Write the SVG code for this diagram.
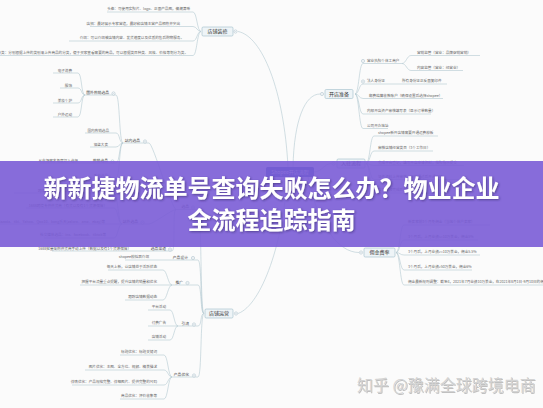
<svg xmlns="http://www.w3.org/2000/svg" xmlns:xlink="http://www.w3.org/1999/xlink" width="543" height="408" viewBox="0 0 543 408">
<defs>
<style>
.ln{fill:none;stroke:#b3cad2;stroke-width:0.6}
.lf{font-family:"Noto Sans CJK SC","Noto Sans",sans-serif;font-size:3.6px;fill:#666}
.sn{font-family:"Noto Sans CJK SC","Noto Sans",sans-serif;font-size:3.8px;fill:#444}
.nd{fill:#eef4f7;stroke:#9fbdca;stroke-width:0.6}
.nt{font-family:"Noto Sans CJK SC","Noto Sans",sans-serif;font-size:5px;fill:#333;text-anchor:middle}
.e{text-anchor:end}
.title{font-family:"Noto Sans CJK SC",sans-serif;font-weight:700;font-size:24px;fill:#fff;text-anchor:middle}
.wm{font-family:"Noto Sans CJK SC",sans-serif;font-size:16px}
</style>
<g id="cb"><circle r="1.6" fill="#fff" stroke="#9fb7c2" stroke-width="0.5"/><path d="M-0.8,0H0.8" stroke="#9fb7c2" stroke-width="0.4"/></g>
<filter id="sh" x="-5%" y="-20%" width="110%" height="140%"><feDropShadow dx="1" dy="1" stdDeviation="0.8" flood-color="#2a1a5a" flood-opacity="0.55"/></filter>
</defs>
<rect width="543" height="408" fill="#fbfbfb"/>
<g id="connectors">
<path class="ln" d="M238,31.5 C262,36 284,90 288,167"/>
<path class="ln" d="M293,167 C294,120 305,94 320,94"/>
<path class="ln" d="M314,172 C322,172 324,163.5 331.5,163.5"/>
<path class="ln" d="M308,177 C318,225 338,252.5 359,252.5"/>
<path class="ln" d="M238,313.5 C262,305 284,240 287,177"/>
<path class="ln" d="M201,31.5 C197,31.5 197,12 193,12 H107"/>
<path class="ln" d="M201,31.5 C197,31.5 197,26.5 193,26.5 H90"/>
<path class="ln" d="M201,31.5 C197,31.5 197,41 193,41 H69"/>
<path class="ln" d="M201,31.5 C197,31.5 197,55.5 193,55.5 H0"/>
<path class="ln" d="M355,94 C359,94 359,63.5 363,63.5 H402"/>
<path class="ln" d="M402,63.5 C406,63.5 407,55.5 411,55.5 H480"/>
<path class="ln" d="M402,63.5 C406,63.5 407,70.5 411,70.5 H463"/>
<path class="ln" d="M355,94 C359,94 359,84 363,84 H447"/>
<path class="ln" d="M355,94 C359,94 359,98.5 363,98.5 H443"/>
<path class="ln" d="M355,94 C359,94 359,114 363,114 H431"/>
<path class="ln" d="M355,94 C359,94 359,128.5 363,128.5 H388"/>
<path class="ln" d="M366,163.5 C370,163.5 370,136 374,136 H438"/>
<path class="ln" d="M366,163.5 C370,163.5 370,151 374,151 H433"/>
<path class="ln" d="M366,163.5 C370,163.5 370,165.5 374,165.5 H464"/>
<path class="ln" d="M366,163.5 C370,163.5 370,179.5 374,179.5 H460"/>
<path class="ln" d="M366,163.5 C370,163.5 370,193 374,193 H445"/>
<path class="ln" d="M396,252.5 C400,252.5 400,225 404,225 H490"/>
<path class="ln" d="M396,252.5 C400,252.5 400,240 404,240 H478"/>
<path class="ln" d="M396,252.5 C400,252.5 400,255 404,255 H480"/>
<path class="ln" d="M396,252.5 C400,252.5 400,270 404,270 H472"/>
<path class="ln" d="M396,252.5 C400,252.5 400,285 404,285 H543"/>
<path class="ln" d="M204,313.5 C200,313.5 202,209.5 198,209.5 H176"/>
<path class="ln" d="M204,313.5 C200,313.5 202,260 198,260 H172"/>
<path class="ln" d="M204,313.5 C200,313.5 202,285 198,285 H172"/>
<path class="ln" d="M204,313.5 C200,313.5 202,326 198,326 H178"/>
<path class="ln" d="M204,313.5 C200,313.5 202,377 198,377 H172"/>
<path class="ln" d="M172,260 H125"/>
<path class="ln" d="M172,285 C168,285 167,270 163,270 H108"/>
<path class="ln" d="M172,285 H80"/>
<path class="ln" d="M172,285 C168,285 167,300 163,300 H125"/>
<path class="ln" d="M178,326 C174,326 174,310 170,310 H148"/>
<path class="ln" d="M178,326 H148"/>
<path class="ln" d="M178,326 C174,326 174,340 170,340 H148"/>
<path class="ln" d="M172,377 C168,377 168,355 164,355 H120"/>
<path class="ln" d="M172,377 C168,377 168,370 164,370 H85"/>
<path class="ln" d="M172,377 C168,377 168,385 164,385 H72"/>
<path class="ln" d="M172,377 C168,377 168,399 164,399 H120"/>
<path class="ln" d="M176,209.5 C172,209.5 153,143 149,143 H123"/>
<path class="ln" d="M176,209.5 C172,209.5 153,224 149,224 H122"/>
<path class="ln" d="M176,209.5 C172,209.5 176,251 172,251 H150"/>
<path class="ln" d="M123,143 C119,143 120,95 116,95 H85"/>
<path class="ln" d="M123,143 C119,143 120,133 116,133 H85"/>
<path class="ln" d="M123,143 C119,143 120,147 116,147 H90"/>
<path class="ln" d="M123,143 C119,143 120,163 116,163 H90"/>
<path class="ln" d="M123,143 C119,143 120,178 116,178 H90"/>
<path class="ln" d="M90,163 H40"/>
<path class="ln" d="M85,95 C81,95 82,73 78,73 H53"/>
<path class="ln" d="M85,95 C81,95 82,88 78,88 H60"/>
<path class="ln" d="M85,95 C81,95 82,103 78,103 H53"/>
<path class="ln" d="M85,95 C81,95 82,117 78,117 H53"/>
<path class="ln" d="M122,224 C118,224 118,193 114,193 H14"/>
<path class="ln" d="M122,224 C118,224 118,208 114,208 H26"/>
<path class="ln" d="M122,224 H0"/>
<path class="ln" d="M122,224 C118,224 118,238 114,238 H44"/>
<path class="ln" d="M150,251 H52"/>
</g>
<g id="center"><rect x="266" y="167" width="48" height="10" rx="1.5" fill="#4267b2"/><text class="nt" x="290" y="173.8" style="fill:#fff">Shopee开店流程</text></g>
<g id="n-zxzx"><rect class="nd" x="202" y="27" width="31" height="9" rx="1.2"/><text class="nt" x="217.5" y="33.3">店铺装修</text><use href="#cb" x="235.5" y="31.5"/>
<text class="lf e" x="190" y="10.4">头像：可使用实照片、logo、正面产品图，偏潮清晰</text>
<text class="lf e" x="180" y="24.9">店招：最好展示专家营造，最好和店铺主营产品相符并突出</text>
<text class="lf e" x="184" y="39.4">介绍：可以介绍被店铺内容、发货速度以及优质的售后购物服务。</text>
<text class="lf e" x="188" y="53.9">分类：分别根据上传的类别来上传商品的分类，便于买家查看需要的商品，可以根据类目种类、风格、价格等划分为类。</text></g>
<g id="n-kdzb"><rect class="nd" x="325" y="89.5" width="28" height="9" rx="1.2"/><text class="nt" x="339" y="95.8">开店准备</text><use href="#cb" x="322" y="94"/>
<use href="#cb" x="363" y="61"/><text class="lf" x="367" y="61.9">营业执照个体工商户</text>
<text class="lf" x="417" y="53.9">营销监管（营业：品牌促销营销）</text>
<text class="lf" x="417" y="68.9">内容监管（营业：经营业）</text>
<use href="#cb" x="363" y="81.5"/><text class="lf" x="367" y="82.4">法人身份证</text>
<text class="lf" x="402" y="82.4">所有身份证正反面复印件</text>
<text class="lf" x="369" y="96.9">邮费结算收款账户（确保设置后选择shopee）</text>
<text class="lf" x="367" y="112.4">内部开店资产审核填写表（显示订单数量）</text>
<text class="lf" x="367" y="126.9">公司开办地址</text></g>
<g id="n-rzlc"><rect class="nd" x="337" y="159" width="28" height="9" rx="1.2"/><text class="nt" x="351" y="165.3">入驻流程</text><use href="#cb" x="333.5" y="163.5"/>
<text class="lf" x="378" y="134.4">shopee新开店铺需要开通运费模板</text>
<text class="lf" x="378" y="149.4">审核店铺经营类目（3个工作日）</text>
<text class="lf" x="378" y="163.9">完成平台登记，填写开店申请资料，按照指示提交</text>
<text class="lf" x="378" y="177.9">证件资料上传审核，审核通过后开通店铺</text>
<text class="lf" x="378" y="191.4">店铺装修完成后提交审核</text></g>
<g id="n-yjfl"><rect class="nd" x="364" y="248" width="31" height="9" rx="1.2"/><text class="nt" x="379.5" y="254.3">佣金费率</text><use href="#cb" x="361" y="252.5"/>
<text class="lf" x="408" y="223.4">新卖家前3个月免佣金（当地个体户卖家）</text>
<text class="lf" x="408" y="238.4">3个月后，上月业绩&lt;=10万美金，佣金5%</text>
<text class="lf" x="408" y="253.4">3个月后，上月业绩&gt;=10万美金，佣金5.5%</text>
<text class="lf" x="408" y="268.4">3个月后，上月业绩&gt;50万美金，佣金6%</text>
<text class="lf" x="408" y="283.4">佣金最新规则调整：截至4，2021年7月业绩10万美金，在2021年8月1日-9月10日的佣金费率</text></g>
<g id="n-dpyy"><rect class="nd" x="205" y="309" width="28" height="9" rx="1.2"/><text class="nt" x="219" y="315.3">店铺运营</text><use href="#cb" x="236" y="313.5"/>
<text class="sn e" x="189" y="208.3">选品</text><use href="#cb" x="193" y="207.5"/>
<text class="sn e" x="188" y="258.7">产品设计</text><use href="#cb" x="193" y="258"/>
<text class="sn e" x="183" y="283.7">推广</text><use href="#cb" x="187.5" y="283"/>
<text class="sn e" x="189" y="324.7">引流</text><use href="#cb" x="194" y="324.5"/>
<text class="sn e" x="189" y="375.7">产品优化</text><use href="#cb" x="194" y="375.5"/>
<text class="lf e" x="149" y="258.4">shopee模拟器介绍</text>
<text class="lf e" x="157" y="268.4">每天上新，让店铺处于活跃状态</text>
<text class="lf e" x="157" y="283.4">把握平台流量重点提醒，提升店铺的销量和优化</text>
<text class="lf e" x="157" y="298.4">跟踪店铺数据动态</text>
<text class="lf e" x="166" y="308.4">平台活动</text>
<text class="lf e" x="166" y="324.4">付费广告</text>
<text class="lf e" x="166" y="338.4">店铺活动</text>
<text class="lf e" x="157" y="353.4">标题优化：标题关键词</text>
<text class="lf e" x="157" y="368.4">图片优化：主图、全方位、视频、精美描述</text>
<text class="lf e" x="157" y="383.4">详情优化：产品规格完整、详细图片、提供完整的尺码</text>
<text class="lf e" x="157" y="397.4">商品优化：评价收集等</text></g>
<g id="n-xp">
<text class="sn e" x="140" y="142.3">站内选品</text><use href="#cb" x="145" y="141.5"/>
<text class="sn e" x="138" y="223.3">站外选品</text><use href="#cb" x="142.5" y="222.5"/>
<text class="sn e" x="166" y="250.3">选品渠道</text><use href="#cb" x="170" y="249.5"/>
<text class="sn e" x="109" y="94.3">国外热销选品</text><use href="#cb" x="113.5" y="93.5"/>
<text class="lf e" x="109" y="132.3">国内热销选品</text>
<text class="lf e" x="108" y="146.3">借鉴大卖</text>
<text class="sn e" x="108" y="162.3">热销选品</text><use href="#cb" x="112.5" y="161.5"/>
<text class="lf e" x="108" y="177.3">季节选品</text>
<text class="lf e" x="72" y="72.3">电子消费</text>
<text class="lf e" x="72" y="87.3">服饰</text>
<text class="lf e" x="72" y="102.3">美妆个护</text>
<text class="lf e" x="72" y="116.3">户外运动</text>
<text class="lf e" x="78" y="162.3">从市场需求角度切入选择</text>
<text class="lf e" x="81" y="192.3">跨境电商平台选品数据参考</text>
<text class="lf e" x="107" y="207.3">1688跨境专供供货商（有货以及有1个货源保障）</text>
<text class="lf e" x="105" y="223.3">海外选品：lazada、tiki、Yahoo、Qoo10、kong乐天(zalora、amz、ebay)等</text>
<text class="lf e" x="106" y="236.3">社交媒体选品：ins、facebook、tiktok等</text>
<text class="lf e" x="131" y="250.3">1688批量采购供货商手动上传（数据以及有1个货源保障）</text></g>
<g id="watermark">
<text class="wm" x="357.8" y="391.8" fill="#a8a8a8" opacity="0.7">知乎 @豫满全球跨境电商</text>
<text class="wm" x="357" y="391" fill="#d4d4d4">知乎 @豫满全球跨境电商</text></g>
<g id="banner">
<rect x="0" y="161" width="543" height="86" fill="#7a5cd6" opacity="0.9"/>
<g filter="url(#sh)">
<text class="title" x="271.5" y="196.5">新新捷物流单号查询失败怎么办？物业企业</text>
<text class="title" x="271.5" y="229">全流程追踪指南</text></g></g>
</svg>
